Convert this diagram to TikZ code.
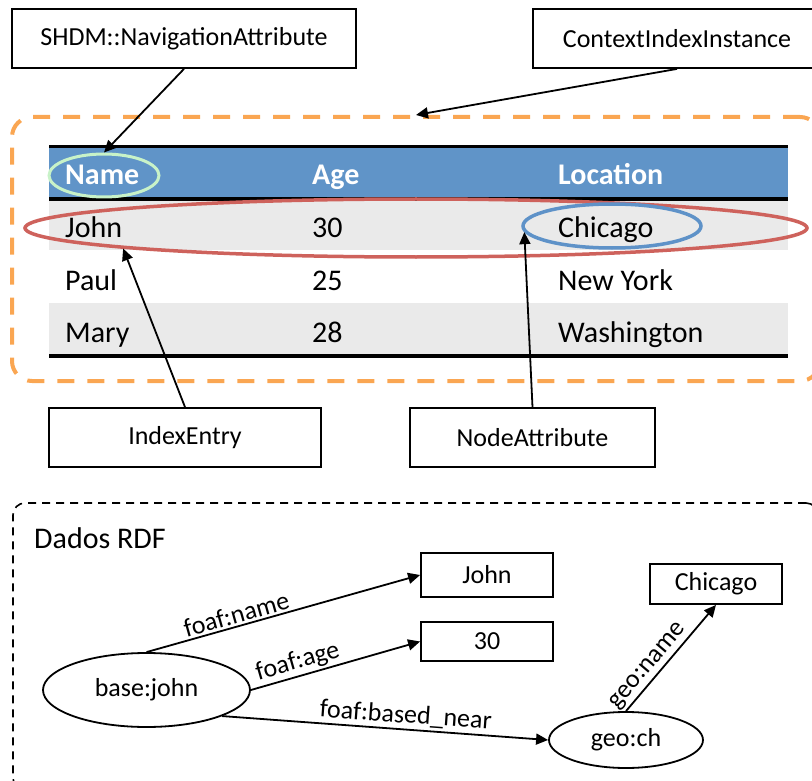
\documentclass[tikz,border=0pt]{standalone}
\usepackage{fontspec}
\setmainfont{Carlito}
\usetikzlibrary{arrows.meta,shapes.geometric}

\definecolor{dashorange}{RGB}{250,166,82}
\definecolor{headblue}{RGB}{96,148,200}
\definecolor{rowgray}{RGB}{234,234,234}
\definecolor{markgreen}{RGB}{200,242,200}
\definecolor{markred}{RGB}{206,98,92}
\definecolor{markblue}{RGB}{94,146,200}

\tikzset{
  classbox/.style={draw, line width=1.8pt, minimum height=59pt, inner sep=0pt,
    font=\fontsize{26}{30}\selectfont},
  litbox/.style={draw, line width=1.8pt, minimum width=132pt, inner sep=0pt,
    font=\fontsize{26}{30}\selectfont},
  resnode/.style={draw, ellipse, line width=1.8pt, inner sep=0pt,
    font=\fontsize{26}{30}\selectfont},
  celltext/.style={anchor=base west, inner sep=0pt, font=\fontsize{30}{36}\selectfont},
  headtext/.style={celltext, text=white, font=\fontsize{30}{36}\selectfont\bfseries},
  hilite/.style={ellipse, inner sep=0pt},
  conn/.style={line width=1.8pt, -{Triangle[length=12pt,width=11pt]}},
  elabel/.style={font=\fontsize{26}{30}\selectfont, inner sep=2pt},
  rule/.style={line width=3.5pt},
}

\begin{document}
\begin{tikzpicture}[x=1pt, y=-1pt]
\useasboundingbox (0,0) rectangle (812,781);
\clip (0,0) rectangle (812,781);

% ---- index table -------------------------------------------------------
\fill[headblue] (49,148) rectangle (788,197.5);
\fill[rowgray]  (49,201) rectangle (788,250);
\fill[rowgray]  (49,303) rectangle (788,354);
\draw[rule] (49,146.5) -- (788,146.5);
\draw[rule] (49,199) -- (788,199);
\draw[rule, line width=4pt] (49,355.5) -- (788,355.5);

\node[headtext] (hName) at (65,185) {Name};
\node[headtext] (hAge)  at (312,185) {Age};
\node[headtext] (hLoc)  at (558,185) {Location};

\node[celltext] (c11) at (65,237) {John};
\node[celltext] (c12) at (312,237) {30};
\node[celltext] (c13) at (558,237) {Chicago};
\node[celltext] (c21) at (65,290) {Paul};
\node[celltext] (c22) at (312,290) {25};
\node[celltext] (c23) at (558,290) {New York};
\node[celltext] (c31) at (65,342) {Mary};
\node[celltext] (c32) at (312,342) {28};
\node[celltext] (c33) at (558,342) {Washington};

% highlighted parts of the table
\node[hilite, draw=markgreen, line width=3pt, minimum width=110pt, minimum height=43pt]
  (nameMark) at (104,175.5) {};
\node[hilite, draw=markred, line width=3.5pt, minimum width=782pt, minimum height=58pt]
  (rowMark) at (416,228) {};
\node[hilite, draw=markblue, line width=3.5pt, minimum width=178pt, minimum height=44pt]
  (cityMark) at (612,226) {};

% context frame
\node[draw=dashorange, line width=4pt, dash pattern=on 17pt off 13pt,
      rounded corners=20pt, minimum width=808pt, minimum height=264pt, inner sep=0pt]
  (ctx) at (416,249) {};

% ---- classes -----------------------------------------------------------
\node[classbox, minimum width=344pt] (navAttr) at (184,38.5) {SHDM::NavigationAttribute};
\node[classbox, minimum width=288pt] (ctxInst) at (677,38.5) {ContextIndexInstance};
\node[classbox, minimum width=272pt] (idxEntry) at (185,437.5) {IndexEntry};
\node[classbox, minimum width=245pt] (nodeAttr) at (532.5,437.5) {NodeAttribute};

\draw[conn] (navAttr.south) -- (nameMark.north);
\draw[conn] (ctxInst.south) -- (ctx.north);
\draw[conn] (idxEntry.north) -- (rowMark.184.4);
\draw[conn] (nodeAttr.north) -- (cityMark.184);

% ---- RDF data ----------------------------------------------------------
\node[draw, line width=1.6pt, dash pattern=on 8pt off 6pt, rounded corners=12pt,
      minimum width=805pt, minimum height=287pt, inner sep=0pt]
  (rdf) at (415.5,646.5) {};
\node[celltext] (rdfTitle) at (34,548) {Dados RDF};

\node[resnode, minimum width=207pt, minimum height=74pt] (bj) at (146.5,690) {base:john};
\node[resnode, minimum width=154pt, minimum height=56pt] (gc) at (626,740) {geo:ch};
\node[litbox, minimum height=44pt] (litJohn) at (487,575) {John};
\node[litbox, minimum height=39pt] (litAge) at (487,641.5) {30};
\node[litbox, minimum height=40pt] (litCity) at (716,584) {Chicago};

\draw[conn] (bj.north) -- node[pos=0.34, sloped, above, elabel] {foaf:name} (litJohn.west);
\draw[conn] (bj.east) -- node[pos=0.30, sloped, above, elabel] {foaf:age} (litAge.west);
\draw[conn] (bj.-19) -- node[pos=0.56, sloped, above, elabel] {foaf:based\_near} (gc.west);
\draw[conn] (gc.north) -- node[pos=0.35, sloped, above, elabel] {geo:name} (litCity.south);

\end{tikzpicture}
\end{document}
